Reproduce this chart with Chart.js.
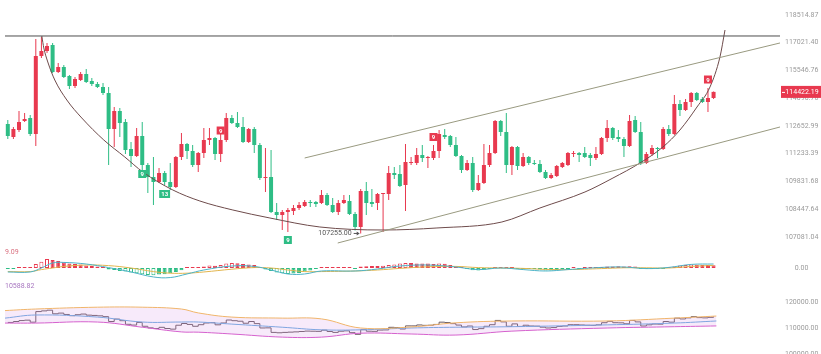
<!DOCTYPE html>
<html><head><meta charset="utf-8">
<script src="https://cdn.jsdelivr.net/npm/chart.js@4.4.1/dist/chart.umd.min.js"></script>
<style>
html,body{margin:0;padding:0;background:#fff;}
body{width:821px;height:354px;overflow:hidden;position:relative;}
canvas{position:absolute;left:0;}
</style></head><body>
<canvas id="pc" width="821" height="245" style="top:0px"></canvas>
<canvas id="mc" width="821" height="35" style="top:245px"></canvas>
<canvas id="bc" width="821" height="74" style="top:280px"></canvas>
<script>
// ---------------- DATA ----------------
const priceTicks = [118514.87, 117021.40, 115546.76, 114090.76, 112652.99, 111233.39, 109831.68, 108447.64, 107081.04];

const openP = [
112756,112088,112447,112911,113066,112242,116315,116581,116902,115468,
115732,115257,114731,115046,115362,114994,114836,114679,114364,112499,
113428,112859,111475,111119,112139,110663,110058,109807,110259,109807,
109556,111068,111730,111373,110663,111272,111934,112037,111221,111934,
113066,112808,112602,111832,112499,111679,110007,110058,108311,108163,
108311,108361,108510,108609,108808,108808,108758,109157,108659,108311,
108758,108857,108212,107572,109356,108808,108758,109206,109206,110259,
110209,109656,110764,110764,111170,111018,111018,111373,112190,112139,
111679,111119,110410,110764,109406,109757,110663,111272,112911,112344,
110663,111577,110612,111068,110764,110714,110309,110007,110108,110562,
110663,111221,111272,111272,111170,111018,111221,112037,112550,112088,
111985,111628,112962,112344,110764,111221,111526,111475,112499,112242,
113791,113480,113895,114364,114051,113895,114104];

const closeP = [
112139,112499,112859,113014,112242,116315,116581,116849,115468,115732,
115204,114731,115099,115362,114941,114836,114679,114364,112499,113428,
112808,111424,111119,112139,110663,110058,109807,110259,109807,109556,
111068,111730,111373,110663,111272,111934,112037,111221,111934,113066,
112808,112602,111832,112499,111679,110007,110058,108311,108163,108311,
108410,108510,108659,108808,108758,108708,109157,108659,108311,108758,
108907,108212,107572,109356,108758,108708,109206,109256,110259,110158,
109606,110815,110815,111170,111018,111068,111373,112242,112088,111679,
111119,110410,110764,109406,109757,110663,111272,112911,112344,110663,
111577,110612,111068,110764,110714,110309,110007,110158,110612,110764,
111272,111272,111170,111068,111018,111221,112037,112550,112037,111985,
111628,112911,112344,110764,111221,111526,111475,112499,112242,113791,
113480,113895,114364,113999,113895,114104,114422.19];

const highP = [
112962,112602,113428,113325,113221,117222,117330,117009,117009,115944,
115838,115309,115204,115468,115626,115151,114941,114889,114679,113635,
113583,113014,111832,112550,112859,110764,111068,110511,110360,110764,
111119,112293,111781,111679,111322,112550,112550,112088,112447,113325,
113221,113376,113118,112550,112602,111781,111526,111424,108758,108410,
108510,108659,108808,108907,108907,108857,109406,109256,109007,108907,
109157,109157,108311,109456,109807,109456,109256,109256,110612,110562,
110663,111730,111068,111526,111679,111119,111679,112447,112499,112190,
112088,111170,110916,111068,110158,111730,111679,112962,112962,113325,
111628,111628,111272,111119,110916,110916,110410,110259,110663,110815,
111322,111373,111322,111577,111272,111577,112088,112962,112602,112447,
112088,113221,113169,112859,111322,111679,111577,112602,112705,114260,
113999,114051,114417,114417,114156,114626,114440];

const lowP = [
111985,111985,112344,112859,112139,111628,116208,116474,115415,115415,
115151,114574,114626,114994,114889,114731,114626,114260,110663,111577,
112088,111221,110562,111068,110410,109256,108659,109757,109656,109406,
109506,110916,110967,110562,110309,111018,111679,110916,110815,111832,
112756,112550,111781,111781,111272,109907,109306,108262,107916,107424,
107326,108163,108410,108559,108559,108559,108708,108609,108262,108163,
108708,108163,107400,107255,108163,108559,108410,107330,108907,109957,
109556,108361,110663,110663,110815,110511,110916,111018,111985,111577,
111068,110259,110360,109306,109356,109707,110562,111221,112139,110259,
110158,110410,110562,110663,110663,110259,109957,109957,110058,110511,
110612,111068,110815,111018,110612,110916,111170,111832,111934,111832,
111068,111577,112293,110663,110714,111119,111018,111424,112139,112190,
113169,113428,113635,113947,113843,113376,114051];

// drawn lines (in candle-index / price units)
const topLinePrice = 117383;
const lineSpan = [-0.5, 137.86];
const upperChIdx = [53.0, 137.86];
const upperChPrice = [111018, 117009];
const lowerChIdx = [58.9, 137.86];
const lowerChPrice = [106787, 112602];
const arcIdx = [6.07, 6.43, 7.14, 8.39, 10.54, 13.21, 17.14, 20.89, 24.11, 29.46, 34.29, 40.18, 46.79, 55.71, 66.96, 76.61, 88.21, 95.0, 103.04, 108.04, 112.86, 116.96, 120.0, 123.04, 125.36, 127.14, 128.04];
const arcPrice = [117383, 116742, 115997, 115046, 113999, 113066, 111934, 111068, 110309, 109406, 108857, 108410, 108015, 107572, 107424, 107523, 107818, 108510, 109306, 110007, 110764, 111577, 112447, 113635, 114679, 116262, 117705];

// sequence count markers
const seqIdx = [24, 28, 38, 50, 76, 125];
const seqPrice = [110209, 109206, 112421, 106934, 112088, 115072];
const seqText = ['9', '13', '9', '9', '9', '9'];
const seqUp = [false, false, true, false, true, true];

// MACD pane
const macdTopLabel = '9.09';
const macdTicks = [0];
const macdHist = [
-0.3,-0.3,0.2,0.3,0.3,2.0,3.2,4.5,4.0,3.5,
2.9,2.3,2.0,1.7,1.3,1.0,0.7,0.4,-0.7,-1.0,
-1.5,-1.8,-2.3,-2.7,-3.2,-3.5,-3.7,-3.3,-3.2,-2.7,
-2.0,-1.1,0.2,0.2,0.3,0.8,1.2,1.1,1.5,2.3,
2.5,2.4,2.0,1.8,1.5,0.3,-0.8,-1.5,-2.2,-2.7,
-3.0,-2.8,-2.5,-1.8,-1.2,-0.3,0.3,0.3,0.2,0.2,
0.3,0.2,-0.3,0.8,0.9,1.0,1.0,1.1,1.5,1.8,
2.2,2.5,2.5,2.2,2.2,2.2,2.0,2.2,2.1,1.5,
0.5,0.3,-0.3,-1.1,-1.2,-0.9,-0.5,0.3,0.4,0.3,
0.2,-0.3,-0.4,-0.5,-0.6,-0.8,-1.2,-1.2,-1.0,-0.7,
-0.3,0.2,-0.2,0.2,0.3,0.3,0.4,0.8,0.8,0.9,
0.7,0.9,0.8,-0.3,-0.4,-0.4,-0.3,-0.3,0.3,0.8,
1.3,1.5,1.8,1.6,1.5,1.5,1.4];
const macdLineIdx = [0,4,6,8,10,14,18,22,26,29,32,35,40,44,47,50,53,56,62,66,70,75,80,84,88,92,96,100,106,110,114,118,122,126];
const difVals = [-2.0,-2.0,0,2.5,2.8,2.0,0.2,-2.0,-4.5,-4.8,-3.0,-1.0,1.0,0.8,-1.0,-3.0,-3.0,-1.5,-1.5,-0.5,1.0,1.5,0.5,-0.8,0,-0.8,-1.5,-0.8,0.3,0.5,-0.3,0.3,1.8,2.0];
const deaVals = [-1.8,-1.8,-0.8,0,0.8,1.5,1.2,0,-1.8,-2.6,-2.6,-2.0,-0.6,0.2,0,-1.0,-1.8,-1.8,-1.5,-1.0,-0.2,0.6,0.8,0.2,0,-0.2,-0.7,-0.8,-0.3,0.1,0.1,0,0.8,1.3];

// Band pane
const bandTopLabel = '10588.82';
const bandTicks = [100000, 110000, 120000];
const bandIdx = [-0.5, 5, 16, 24, 31, 34, 40, 49, 56, 63, 72, 80, 90, 107, 119, 126.5];
const bandUpper = [116700,117300,118000,118000,117300,115800,114200,113800,113500,110000,110400,112000,112700,112700,113800,114600];
const bandLower = [111900,111900,112300,110300,108500,108400,107700,106500,106500,108000,107700,107300,108800,110000,110500,110800];
const bandMid = [113800,115000,114200,112300,112300,112300,111500,110300,109300,109300,110000,110300,110500,111200,111900,112700];

// ---------------- STYLE ----------------
Chart.defaults.font.family = 'Roboto, "Noto Sans", sans-serif';
const UP = '#e8394f', DOWN = '#2ebd85', AXIS_TXT = '#9a9a9a';
const X_MIN = -0.5, X_MAX = 137.86;
const xIdx = closeP.map((_, i) => i);
const candleCol = xIdx.map(i => closeP[i] >= openP[i] ? UP : DOWN);
const fixY = w => s => { s.width = w; s.paddingTop = 0; s.paddingBottom = 0; s.paddingLeft = 0; s.paddingRight = 0; };
const xOpts = () => ({ type: 'linear', min: X_MIN, max: X_MAX, display: false, offset: false, bounds: 'data', grid: { display: false } });
const yBase = (pad) => ({
  position: 'right', bounds: 'data', grid: { display: false, drawTicks: false }, border: { display: false },
  afterFit: fixY(41),
  ticks: { padding: pad, crossAlign: 'center', color: AXIS_TXT, font: { size: 7 }, autoSkip: false, callback: v => Number(v).toFixed(2) }
});
const common = { responsive: false, animation: false, events: [], layout: { padding: { left: 5, right: 0, top: 0, bottom: 0 } },
  plugins: { legend: { display: false }, tooltip: { enabled: false } } };
const pts = (xs, ys) => xs.map((x, k) => ({ x, y: ys[k] }));
const lineDs = (data, color, extra) => Object.assign({ type: 'line', data, borderColor: color, borderWidth: 1, pointRadius: 0, fill: false, order: 0 }, extra || {});

// ---------------- MAIN CHART ----------------
const mainOverlay = {
  id: 'mainOverlay',
  afterDatasetsDraw(chart) {
    const { ctx, scales: { x, y } } = chart;
    ctx.save();
    ctx.font = 'bold 6px Roboto';
    ctx.textAlign = 'center'; ctx.textBaseline = 'middle';
    seqIdx.forEach((idx, k) => {
      const px = x.getPixelForValue(idx), py = y.getPixelForValue(seqPrice[k]);
      const w = Math.max(8, ctx.measureText(seqText[k]).width + 4), h = 8;
      ctx.fillStyle = seqUp[k] ? UP : DOWN;
      ctx.fillRect(px - w / 2, py - h / 2, w, h);
      ctx.fillStyle = '#fff';
      ctx.fillText(seqText[k], px, py + 0.5);
    });
    // lowest low marker
    let mi = 0; lowP.forEach((v, i) => { if (v < lowP[mi]) mi = i; });
    const lx = x.getPixelForValue(mi), ly = y.getPixelForValue(lowP[mi]);
    ctx.font = '7px Roboto'; ctx.textAlign = 'right'; ctx.fillStyle = '#555';
    ctx.fillText(lowP[mi].toFixed(2), lx - 9, ly);
    ctx.strokeStyle = '#555'; ctx.lineWidth = 1;
    ctx.beginPath(); ctx.moveTo(lx - 7, ly); ctx.lineTo(lx - 3, ly); ctx.stroke();
    ctx.beginPath(); ctx.moveTo(lx - 1, ly); ctx.lineTo(lx - 4, ly - 2); ctx.lineTo(lx - 4, ly + 2); ctx.closePath(); ctx.fillStyle = '#555'; ctx.fill();
    ctx.restore();
  },
  afterDraw(chart) {
    const { ctx, scales: { y }, chartArea } = chart;
    const last = closeP[closeP.length - 1];
    const py = y.getPixelForValue(last);
    ctx.save();
    ctx.fillStyle = candleCol[candleCol.length - 1];
    ctx.fillRect(chartArea.right + 1, py - 6, chart.width - chartArea.right - 1, 12);
    ctx.strokeStyle = '#fff'; ctx.lineWidth = 1;
    ctx.beginPath(); ctx.moveTo(chartArea.right + 2, py + 0.5); ctx.lineTo(chartArea.right + 5, py + 0.5); ctx.stroke();
    ctx.fillStyle = '#fff'; ctx.font = '7px Roboto'; ctx.textAlign = 'center'; ctx.textBaseline = 'middle';
    ctx.fillText(last.toFixed(2), 802, py + 0.5);
    ctx.restore();
  }
};

new Chart(document.getElementById('pc'), {
  type: 'bar',
  data: { datasets: [
    lineDs(pts(lineSpan, [topLinePrice, topLinePrice]), '#4d4d4d'),
    lineDs(pts(upperChIdx, upperChPrice), '#999a80'),
    lineDs(pts(lowerChIdx, lowerChPrice), '#999a80'),
    lineDs(pts(arcIdx, arcPrice), '#6e4b4b', { cubicInterpolationMode: 'monotone' }),
    { type: 'bar', data: xIdx.map(i => ({ x: i, y: [openP[i], closeP[i]] })), backgroundColor: candleCol,
      barThickness: 4, minBarLength: 1, grouped: false, inflateAmount: 0, borderWidth: 0, order: 1 },
    { type: 'bar', data: xIdx.map(i => ({ x: i, y: [lowP[i], highP[i]] })), backgroundColor: candleCol,
      barThickness: 1, grouped: false, inflateAmount: 0, borderWidth: 0, order: 2 }
  ] },
  options: Object.assign({}, common, {
    scales: {
      x: xOpts(),
      y: Object.assign(yBase(5), { type: 'logarithmic', min: 106690, max: 119330,
        afterBuildTicks: s => { s.ticks = priceTicks.map(v => ({ value: v })); } })
    }
  }),
  plugins: [mainOverlay]
});

// ---------------- MACD CHART ----------------
const histCol = macdHist.map(v => v >= 0 ? UP : DOWN);
const histFill = macdHist.map((v, i) => (i > 0 && Math.abs(v) > Math.abs(macdHist[i - 1])) ? '#ffffff' : histCol[i]);
const labelPlugin = (text, color, yPos) => ({
  id: 'lbl' + text.replace(/\W/g, ''),
  afterDraw(chart) {
    const ctx = chart.ctx; ctx.save();
    ctx.font = '7px Roboto'; ctx.fillStyle = color; ctx.textAlign = 'left'; ctx.textBaseline = 'middle';
    ctx.fillText(text, 5, yPos); ctx.restore();
  }
});
new Chart(document.getElementById('mc'), {
  type: 'bar',
  data: { datasets: [
    lineDs(pts(macdLineIdx, difVals), '#4db3c7', { tension: 0.4 }),
    lineDs(pts(macdLineIdx, deaVals), '#e2b54e', { tension: 0.4 }),
    { type: 'bar', data: xIdx.map(i => ({ x: i, y: macdHist[i] })), backgroundColor: histFill, borderColor: histCol,
      borderWidth: 1, borderSkipped: false, barThickness: 4, minBarLength: 1, grouped: false, inflateAmount: 0, order: 1 }
  ] },
  options: Object.assign({}, common, {
    scales: {
      x: xOpts(),
      y: Object.assign(yBase(14.7), { type: 'linear', min: -6.03, max: 11.56,
        afterBuildTicks: s => { s.ticks = macdTicks.map(v => ({ value: v })); } })
    }
  }),
  plugins: [labelPlugin(macdTopLabel, '#d9707f', 7)]
});

// ---------------- BAND CHART ----------------
new Chart(document.getElementById('bc'), {
  type: 'line',
  data: { datasets: [
    lineDs(pts(bandIdx, bandUpper), '#f0b56a', { tension: 0.4, fill: { target: 1 }, backgroundColor: 'rgba(214,150,230,0.2)' }),
    lineDs(pts(bandIdx, bandLower), '#d55ccb', { tension: 0.4 }),
    lineDs(pts(bandIdx, bandMid), '#6aa9df', { tension: 0.4 }),
    lineDs(xIdx.map(i => ({ x: i, y: closeP[i] })), '#6a5a63', { stepped: true })
  ] },
  options: Object.assign({}, common, {
    scales: {
      x: xOpts(),
      y: Object.assign(yBase(5), { type: 'linear', min: 100000, max: 128461,
        afterBuildTicks: s => { s.ticks = bandTicks.map(v => ({ value: v })); } })
    }
  }),
  plugins: [labelPlugin(bandTopLabel, '#a877c0', 6)]
});
</script></body></html>
